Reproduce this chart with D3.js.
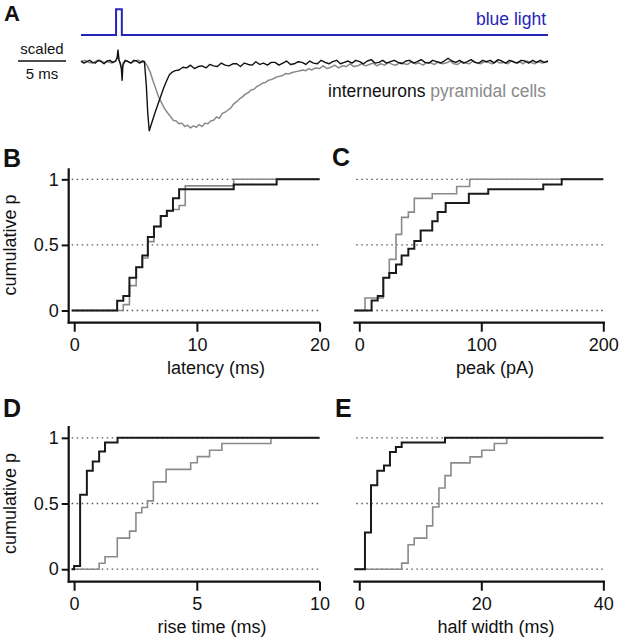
<!DOCTYPE html>
<html><head><meta charset="utf-8">
<script src="https://cdn.jsdelivr.net/npm/d3@7"></script>
<style>
body{margin:0;background:#fff}
svg{display:block}
text{font-family:"Liberation Sans",Arial,Helvetica,sans-serif}
</style>
</head><body>
<svg id="chart" width="620" height="639"></svg>
<script>
// ---------------- DATA ----------------
// Panel A: light pulse (ms, on/off)
const lightT = [0, 3.65, 3.65, 4.25, 4.25, 48.6];
const lightV = [0, 0, 1, 1, 0, 0];

// Panel A: scaled average traces [time ms, normalized amplitude]
const interneuronTrace = [
 [0,0.01],[0.3,-0.02],[0.6,0.0],[0.9,0.02],[1.2,-0.01],[1.5,-0.02],[1.8,0.02],[2.1,0.0],[2.4,-0.03],[2.7,0.01],
 [3.0,0.02],[3.3,-0.01],[3.6,0.01],[3.75,0.05],[3.85,0.17],[3.95,0.03],[4.1,-0.03],[4.2,-0.1],[4.28,-0.27],[4.36,-0.05],
 [4.6,0.02],[4.9,0.0],[5.2,-0.02],[5.5,0.02],[5.8,0.01],[6.1,-0.02],[6.4,0.01],[6.6,0.0],[6.8,-0.35],[6.95,-0.75],
 [7.1,-1.0],[7.4,-0.87],[7.7,-0.74],[8.0,-0.62],[8.3,-0.5],[8.6,-0.38],[8.9,-0.28],[9.2,-0.19],[9.5,-0.15],[9.8,-0.13],
 [10.2,-0.12],[10.6,-0.08],[11.0,-0.09],[11.4,-0.05],[11.8,-0.1],[12.2,-0.07],[12.6,-0.06],[13.0,-0.09],[13.4,-0.04],[13.8,-0.06],
 [14.2,-0.07],[14.6,-0.02],[15.0,-0.05],[15.4,-0.06],[15.8,-0.03],[16.2,-0.03],[16.6,-0.07],[17.0,-0.02],[17.4,-0.04],[17.8,-0.05],
 [18.2,0.0],[18.6,-0.04],[19.0,-0.02],[19.4,-0.05],[19.8,-0.01],[20.2,-0.01],[20.6,-0.05],[21.0,-0.02],[21.4,0.01],[21.8,-0.04],
 [22.2,-0.03],[22.6,0.0],[23.0,-0.01],[23.4,-0.04],[23.8,0.01],[24.2,-0.02],[24.6,-0.03],[25.0,0.02],[25.4,-0.01],[25.8,-0.03],
 [26.2,0.0],[26.6,0.02],[27.0,-0.03],[27.4,-0.01],[27.8,0.01],[28.2,-0.02],[28.6,0.02],[29.0,0.0],[29.4,-0.03],[29.8,0.01],
 [30.2,0.03],[30.6,-0.02],[31.0,-0.01],[31.4,0.02],[31.8,-0.02],[32.2,0.0],[32.6,0.02],[33.0,-0.01],[33.4,-0.03],[33.8,0.01],
 [34.2,0.02],[34.6,-0.02],[35.0,0.0],[35.4,0.03],[35.8,-0.01],[36.2,-0.02],[36.6,0.02],[37.0,0.0],[37.4,-0.02],[37.8,0.01],
 [38.2,0.05],[38.6,0.01],[39.0,-0.01],[39.4,0.02],[39.8,-0.02],[40.2,0.0],[40.6,0.03],[41.0,-0.01],[41.4,-0.02],[41.8,0.02],
 [42.2,0.0],[42.6,0.02],[43.0,-0.02],[43.4,0.03],[43.8,0.01],[44.2,-0.02],[44.6,0.02],[45.0,0.0],[45.4,-0.02],[45.8,0.02],
 [46.2,0.01],[46.6,-0.02],[47.0,0.02],[47.4,-0.01],[47.8,0.02],[48.2,-0.01],[48.6,0.01]
];
const pyramidalTrace = [
 [0,0.0],[0.4,0.02],[0.8,-0.01],[1.2,-0.02],[1.6,0.01],[2.0,0.02],[2.4,-0.01],[2.8,0.0],[3.2,-0.02],[3.6,0.01],
 [3.85,0.08],[4.0,0.0],[4.28,-0.12],[4.4,-0.01],[4.8,0.01],[5.2,-0.02],[5.6,0.01],[6.0,0.02],[6.4,-0.01],[6.6,0.0],
 [6.9,-0.06],[7.2,-0.15],[7.5,-0.28],[7.8,-0.4],[8.1,-0.52],[8.4,-0.6],[8.7,-0.68],[9.0,-0.74],[9.3,-0.79],[9.6,-0.85],
 [9.9,-0.86],[10.2,-0.9],[10.5,-0.89],[10.8,-0.94],[11.1,-0.92],[11.4,-0.96],[11.7,-0.93],[12.0,-0.95],[12.3,-0.91],[12.6,-0.94],
 [12.9,-0.89],[13.2,-0.9],[13.5,-0.86],[13.8,-0.85],[14.1,-0.8],[14.4,-0.82],[14.7,-0.75],[15.0,-0.73],[15.3,-0.7],[15.6,-0.67],
 [15.9,-0.61],[16.2,-0.58],[16.5,-0.54],[16.8,-0.51],[17.1,-0.47],[17.4,-0.45],[17.7,-0.41],[18.0,-0.4],[18.3,-0.36],[18.6,-0.34],
 [18.9,-0.31],[19.2,-0.3],[19.5,-0.27],[19.8,-0.26],[20.1,-0.24],[20.4,-0.22],[20.7,-0.21],[21.0,-0.2],[21.3,-0.17],[21.6,-0.18],
 [21.9,-0.16],[22.2,-0.15],[22.5,-0.14],[22.8,-0.13],[23.1,-0.12],[23.4,-0.13],[23.7,-0.1],[24.0,-0.12],[24.4,-0.09],[24.8,-0.1],
 [25.2,-0.06],[25.6,-0.1],[26.0,-0.08],[26.4,-0.05],[26.8,-0.09],[27.2,-0.06],[27.6,-0.07],[28.0,-0.03],[28.4,-0.07],[28.8,-0.06],
 [29.2,-0.03],[29.6,-0.06],[30.0,-0.04],[30.4,-0.02],[30.8,-0.06],[31.2,-0.03],[31.6,-0.05],[32.0,-0.01],[32.4,-0.04],[32.8,-0.05],
 [33.2,-0.01],[33.6,-0.03],[34.0,-0.04],[34.4,0.0],[34.8,-0.03],[35.2,-0.02],[35.6,-0.05],[36.0,-0.01],[36.4,-0.02],[36.8,-0.04],
 [37.2,0.0],[37.6,-0.03],[38.0,-0.02],[38.4,0.01],[38.8,-0.03],[39.2,-0.04],[39.6,0.0],[40.0,-0.02],[40.4,-0.03],[40.8,0.01],
 [41.2,-0.02],[41.6,-0.03],[42.0,0.0],[42.4,-0.01],[42.8,-0.03],[43.2,0.01],[43.6,-0.02],[44.0,-0.01],[44.4,-0.03],[44.8,0.01],
 [45.2,-0.02],[45.6,0.0],[46.0,-0.03],[46.4,0.01],[46.8,-0.01],[47.2,-0.03],[47.6,0.0],[48.0,-0.02],[48.6,0.0]
];

// Panel B: latency (ms) cumulative distributions (step start x, level p)
const latencyIN_x = [-0.2, 3.5, 4.0, 4.5, 5.05, 5.55, 6.0, 6.5, 7.05, 7.55, 8.05, 8.55, 13.0, 16.5, 20];
const latencyIN_p = [0, 0.074, 0.11, 0.25, 0.33, 0.42, 0.56, 0.64, 0.72, 0.76, 0.855, 0.925, 0.96, 1.0, 1.0];
const latencyPY_x = [-0.2, 4.0, 4.5, 5.05, 5.55, 6.0, 6.5, 7.05, 7.55, 8.05, 8.55, 9.05, 13.0, 20];
const latencyPY_p = [0, 0.045, 0.19, 0.33, 0.40, 0.525, 0.64, 0.72, 0.76, 0.77, 0.80, 0.95, 1.0, 1.0];

// Panel C: peak (pA)
const peakIN_x = [-4, 10.1, 15.1, 19.7, 24.6, 30.1, 34.7, 40.2, 45.1, 50.3, 59.8, 64.2, 70.8, 89.8, 105.7, 150.8, 165.9, 200];
const peakIN_p = [0, 0.076, 0.11, 0.25, 0.285, 0.35, 0.42, 0.47, 0.53, 0.61, 0.68, 0.75, 0.82, 0.89, 0.925, 0.96, 1.0, 1.0];
const peakPY_x = [-4, 4.7, 19.7, 24.6, 30.1, 34.7, 40.2, 45.1, 59.8, 79.8, 90.5, 200];
const peakPY_p = [0, 0.095, 0.25, 0.39, 0.58, 0.71, 0.75, 0.855, 0.89, 0.945, 1.0, 1.0];

// Panel D: rise time (ms)
const riseIN_x = [-0.1, 0.0, 0.245, 0.52, 0.76, 1.02, 1.26, 1.77, 10];
const riseIN_p = [0, 0.025, 0.567, 0.75, 0.82, 0.895, 0.965, 1.0, 1.0];
const risePY_x = [-0.1, 1.02, 1.26, 1.76, 2.26, 2.52, 2.76, 2.99, 3.23, 3.75, 4.75, 5.02, 5.52, 6.02, 8.02, 10];
const risePY_p = [0, 0.045, 0.095, 0.237, 0.29, 0.43, 0.47, 0.52, 0.665, 0.76, 0.81, 0.857, 0.905, 0.957, 1.0, 1.0];

// Panel E: half width (ms)
const halfIN_x = [-0.8, 0.93, 1.92, 2.95, 4.05, 5.03, 6.0, 6.95, 14.05, 40];
const halfIN_p = [0, 0.28, 0.64, 0.75, 0.79, 0.893, 0.93, 0.964, 1.0, 1.0];
const halfPY_x = [-0.8, 6.95, 8.0, 9.0, 11.05, 12.03, 13.05, 14.05, 15.03, 18.15, 20.07, 22.13, 24.16, 40];
const halfPY_p = [0, 0.046, 0.186, 0.237, 0.33, 0.473, 0.618, 0.712, 0.809, 0.855, 0.905, 0.957, 1.0, 1.0];

// Tick values / labels
const yMajor = [0, 0.5, 1];
const yMajorLabels = ["0", "0.5", "1"];
const yMinor = [0.1, 0.2, 0.3, 0.4, 0.6, 0.7, 0.8, 0.9];
const latencyTicks = [0, 10, 20], latencyMinor = [2, 4, 6, 8, 12, 14, 16, 18];
const peakTicks = [0, 100, 200], peakMinor = [20, 40, 60, 80, 120, 140, 160, 180];
const riseTicks = [0, 5, 10], riseMinor = [1, 2, 3, 4, 6, 7, 8, 9];
const halfTicks = [0, 20, 40], halfMinor = [4, 8, 12, 16, 24, 28, 32, 36];

// ---------------- DRAW ----------------
const svg = d3.select("#chart");
svg.append("rect").attr("width", 620).attr("height", 639).attr("fill", "#fff");

const INK = "#111", GREY = "#8a8a8a", BLUE = "#2424b8";
const FONT = 18;

// Panel A
const tA = d3.scaleLinear().domain([0, 48.6]).range([81, 548]);
const vA = d3.scaleLinear().domain([0, -1]).range([61.7, 130.7]);
const lA = d3.scaleLinear().domain([0, 1]).range([35, 9.3]);

svg.append("path")
  .attr("d", d3.line().x((d, i) => tA(lightT[i])).y((d, i) => lA(lightV[i]))(lightT))
  .attr("fill", "none").attr("stroke", BLUE).attr("stroke-width", 2);

const traceLine = d3.line().x(d => tA(d[0])).y(d => vA(d[1]));
svg.append("path").attr("d", traceLine(pyramidalTrace))
  .attr("fill", "none").attr("stroke", GREY).attr("stroke-width", 1.5).attr("stroke-linejoin", "round");
svg.append("path").attr("d", traceLine(interneuronTrace))
  .attr("fill", "none").attr("stroke", INK).attr("stroke-width", 1.4).attr("stroke-linejoin", "round");

svg.append("text").attr("x", 546).attr("y", 25).attr("text-anchor", "end")
  .attr("font-size", 17.5).attr("fill", BLUE).text("blue light");
const lg = svg.append("text").attr("x", 546).attr("y", 97).attr("text-anchor", "end").attr("font-size", 17.5);
lg.append("tspan").attr("fill", INK).text("interneurons ");
lg.append("tspan").attr("fill", GREY).text("pyramidal cells");

// scale bar
const sbX0 = 18;
svg.append("line").attr("x1", sbX0).attr("x2", sbX0 + tA(5) - tA(0))
  .attr("y1", 61).attr("y2", 61).attr("stroke", INK).attr("stroke-width", 1.5);
svg.append("text").attr("x", sbX0 + (tA(5) - tA(0)) / 2).attr("y", 54).attr("text-anchor", "middle")
  .attr("font-size", 15).attr("fill", INK).text("scaled");
svg.append("text").attr("x", sbX0 + (tA(5) - tA(0)) / 2).attr("y", 79).attr("text-anchor", "middle")
  .attr("font-size", 15).attr("fill", INK).text("5 ms");

// panel letters
const letters = [["A", 4, 21, 22], ["B", 3, 167, 25], ["C", 332, 166, 25], ["D", 3, 417, 25], ["E", 335, 417, 25]];
letters.forEach(([t, x, y, s]) => svg.append("text").attr("x", x).attr("y", y)
  .attr("font-size", s).attr("font-weight", "bold").attr("fill", INK).text(t));

function cdfPanel(opt) {
  const x = d3.scaleLinear().domain(opt.xd).range(opt.xr);
  const y = d3.scaleLinear().domain(opt.yd).range(opt.yr);
  const g = svg.append("g");
  // dotted reference lines
  yMajor.forEach(v => g.append("line")
    .attr("x1", opt.xr[0] + 3).attr("x2", opt.xr[1]).attr("y1", y(v)).attr("y2", y(v))
    .attr("stroke", "#555").attr("stroke-width", 1.3).attr("stroke-dasharray", "1.5,3.5"));
  // step curves
  const step = d3.line().curve(d3.curveStepAfter);
  const draw = (xs, ps, col, w) => g.append("path")
    .attr("d", step(xs.map((v, i) => [x(v), y(ps[i])])))
    .attr("fill", "none").attr("stroke", col).attr("stroke-width", w);
  draw(opt.pyX, opt.pyP, GREY, 1.6);
  draw(opt.inX, opt.inP, "#1a1a1a", 2);

  // x axis
  const xAxisY = opt.yr[0];
  const ax = g.append("g").attr("transform", `translate(0,${xAxisY})`);
  ax.call(d3.axisBottom(x).tickValues(opt.minor).tickSize(5).tickFormat(""));
  ax.call(d3.axisBottom(x).tickValues(opt.ticks).tickSize(9).tickPadding(7).tickFormat(d3.format("d")));
  ax.selectAll(".domain").remove();
  ax.selectAll(".tick line").attr("stroke", INK).attr("stroke-width", 2);
  ax.selectAll("text").attr("font-size", FONT).attr("fill", INK)
    .attr("font-family", '"Liberation Sans",Arial,sans-serif');
  g.append("line").attr("x1", opt.xr[0] - (opt.yAxis ? 1 : 0)).attr("x2", opt.xr[1])
    .attr("y1", xAxisY).attr("y2", xAxisY).attr("stroke", INK).attr("stroke-width", 2.2);
  g.append("text").attr("x", opt.titleX).attr("y", xAxisY + 51).attr("text-anchor", "middle")
    .attr("font-size", FONT).attr("fill", INK).text(opt.title);

  if (opt.yAxis) {
    const ay = g.append("g").attr("transform", `translate(${opt.xr[0]},0)`);
    ay.call(d3.axisLeft(y).tickValues(yMinor).tickSize(4).tickFormat(""));
    ay.call(d3.axisLeft(y).tickValues(yMajor).tickSize(7).tickPadding(3)
      .tickFormat((d, i) => yMajorLabels[i]));
    ay.selectAll(".domain").remove();
    ay.selectAll(".tick line").attr("stroke", INK).attr("stroke-width", 2);
    ay.selectAll("text").attr("font-size", FONT).attr("fill", INK)
      .attr("font-family", '"Liberation Sans",Arial,sans-serif');
    g.append("line").attr("x1", opt.xr[0]).attr("x2", opt.xr[0])
      .attr("y1", opt.yr[1]).attr("y2", opt.yr[0] + 1).attr("stroke", INK).attr("stroke-width", 2.2);
    const cy = (y(0) + y(1)) / 2;
    g.append("text").attr("transform", `translate(16,${cy}) rotate(-90)`)
      .attr("text-anchor", "middle").attr("font-size", FONT).attr("fill", INK).text("cumulative p");
  }
}

const yTop = { yd: [-0.093, 1.084], yr: [322.7, 168.3] };
const yBot = { yd: [-0.095, 1.09], yr: [581.7, 426] };

cdfPanel(Object.assign({ xd: [-0.45, 20.05], xr: [68.7, 320.2], ticks: latencyTicks, minor: latencyMinor,
  inX: latencyIN_x, inP: latencyIN_p, pyX: latencyPY_x, pyP: latencyPY_p, title: "latency (ms)", titleX: 216, yAxis: true }, yTop));
cdfPanel(Object.assign({ xd: [-4.9, 201.4], xr: [353.3, 605], ticks: peakTicks, minor: peakMinor,
  inX: peakIN_x, inP: peakIN_p, pyX: peakPY_x, pyP: peakPY_p, title: "peak (pA)", titleX: 495, yAxis: false }, yTop));
cdfPanel(Object.assign({ xd: [-0.22, 10.02], xr: [68.7, 320], ticks: riseTicks, minor: riseMinor,
  inX: riseIN_x, inP: riseIN_p, pyX: risePY_x, pyP: risePY_p, title: "rise time (ms)", titleX: 212, yAxis: true }, yBot));
cdfPanel(Object.assign({ xd: [-0.98, 40.27], xr: [353.3, 605], ticks: halfTicks, minor: halfMinor,
  inX: halfIN_x, inP: halfIN_p, pyX: halfPY_x, pyP: halfPY_p, title: "half width (ms)", titleX: 496, yAxis: false }, yBot));
</script>
</body></html>
